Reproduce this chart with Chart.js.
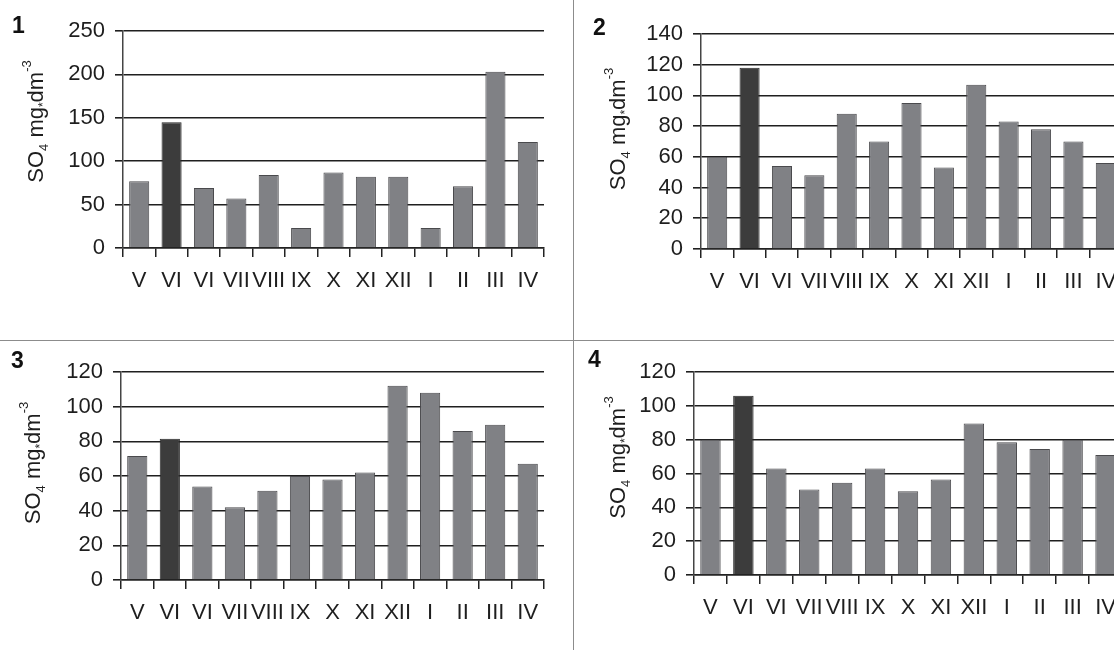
<!DOCTYPE html>
<html>
<head>
<meta charset="utf-8">
<script src="https://cdn.jsdelivr.net/npm/chart.js@4.4.1/dist/chart.umd.min.js"></script>
<style>
html,body{margin:0;padding:0;width:1114px;height:650px;overflow:hidden;background:#fff;}
canvas{position:absolute;}
.vline{position:absolute;left:573px;top:0;width:1px;height:650px;background:#8c8c8c;}
.hline{position:absolute;left:0;top:340px;width:1114px;height:1px;background:#8c8c8c;}
</style>
</head>
<body>
<canvas id="c1" width="573" height="338" style="left:0;top:0"></canvas>
<canvas id="c2" width="560" height="338" style="left:574px;top:0"></canvas>
<canvas id="c3" width="573" height="309" style="left:0;top:341px"></canvas>
<canvas id="c4" width="560" height="309" style="left:574px;top:341px"></canvas>
<div class="vline"></div>
<div class="hline"></div>
<script>
// ---- data ----
const months = ['V','VI','VI','VII','VIII','IX','X','XI','XII','I','II','III','IV'];
const site1 = [77,145,69,57,84,23,87,82,82,23,71,203,122];
const site2 = [60,118,54,48,88,70,95,53,107,83,78,70,56];
const site3 = [71.5,81.5,54,42,51.5,60,58,62,112,108,86,89.5,67];
const site4 = [80,106,63,50.5,54.5,63,49.5,56.5,89.5,78.5,74.5,80,71];
const yMaxes = [250,140,120,120];
const ySteps = [50,20,20,20];
const panelNames = ['1','2','3','4'];
const highlightIndex = 1;

Chart.defaults.font.family = '"Liberation Sans", Arial, sans-serif';

const annot = {
  id: 'annot',
  afterDraw(chart, args, o) {
    const ctx = chart.ctx;
    ctx.save();
    ctx.fillStyle = '#111';
    ctx.font = 'bold 23px "Liberation Sans"';
    ctx.textBaseline = 'alphabetic';
    ctx.textAlign = 'left';
    ctx.fillText(o.num, o.numX, o.numY);
    ctx.translate(o.titleX, o.titleY);
    ctx.rotate(-Math.PI / 2);
    const segs = [['SO',22,0],['4',13,5],[' mg',22,0],['*',12,4],['dm',22,0],['-3',13,-12]];
    let total = 0;
    segs.forEach(s => { ctx.font = s[1] + 'px "Liberation Sans"'; total += ctx.measureText(s[0]).width; });
    let x = -total / 2;
    ctx.fillStyle = '#1e1e1e';
    segs.forEach(s => {
      ctx.font = s[1] + 'px "Liberation Sans"';
      ctx.fillText(s[0], x, s[2]);
      x += ctx.measureText(s[0]).width;
    });
    ctx.restore();
  }
};

function makeChart(id, values, yMax, step, layout, ann) {
  const colors = values.map((v, i) => i === highlightIndex ? '#3c3c3c' : '#808185');
  const borders = values.map((v, i) => i === highlightIndex ? '#262626' : '#4a4a4d');
  return new Chart(document.getElementById(id), {
    type: 'bar',
    data: { labels: months, datasets: [{ data: values, backgroundColor: colors, borderColor: borders, borderWidth: 1, barPercentage: 0.62, categoryPercentage: 1.0 }] },
    options: {
      responsive: false,
      animation: false,
      layout: { padding: layout.pad },
      plugins: { legend: { display: false }, tooltip: { enabled: false }, annot: ann },
      scales: {
        x: {
          offset: true,
          grid: { offset: true, drawOnChartArea: false, drawTicks: true, tickLength: 9, color: '#222', lineWidth: 1.5 },
          border: { display: true, color: '#222', width: 1.6 },
          ticks: { autoSkip: false, maxRotation: 0, minRotation: 0, padding: 11, color: '#1e1e1e', font: { size: 22 } },
          afterFit(s) { s.height = layout.xh; }
        },
        y: {
          min: 0, max: yMax,
          ticks: { stepSize: step, padding: 10, color: '#1e1e1e', font: { size: 22 } },
          grid: { color: '#1f1f1f', lineWidth: 1.6, tickLength: 8, drawTicks: true },
          border: { display: true, color: '#444', width: 1.5 },
          afterFit(s) { s.width = layout.yw; }
        }
      }
    },
    plugins: [annot]
  });
}

makeChart('c1', site1, yMaxes[0], ySteps[0],
  { pad: { left: 0, right: 29, top: 31, bottom: 40 }, yw: 123, xh: 50 },
  { num: panelNames[0], numX: 12, numY: 33, titleX: 43, titleY: 121.5 });
makeChart('c2', site2, yMaxes[1], ySteps[1],
  { pad: { left: 0, right: 12, top: 34, bottom: 39 }, yw: 127, xh: 50 },
  { num: panelNames[1], numX: 19, numY: 35, titleX: 51, titleY: 129 });
makeChart('c3', site3, yMaxes[2], ySteps[2],
  { pad: { left: 0, right: 29, top: 31, bottom: 20 }, yw: 121, xh: 50 },
  { num: panelNames[2], numX: 11, numY: 27, titleX: 40, titleY: 122 });
makeChart('c4', site4, yMaxes[3], ySteps[3],
  { pad: { left: 0, right: 12, top: 31, bottom: 25 }, yw: 120, xh: 50 },
  { num: panelNames[3], numX: 14, numY: 26, titleX: 51, titleY: 116.5 });
</script>
</body>
</html>
